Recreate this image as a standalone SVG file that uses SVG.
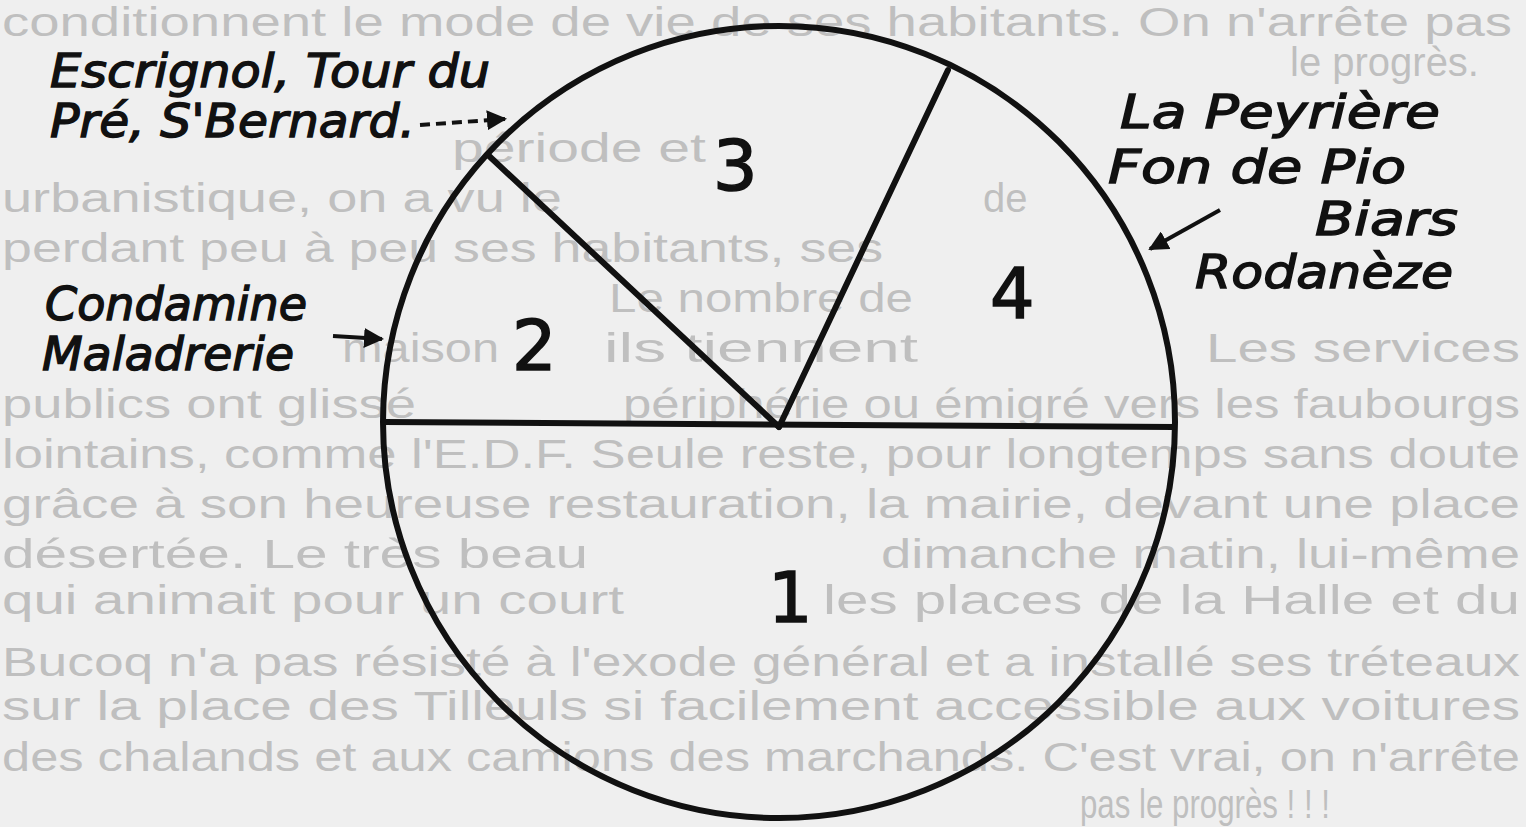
<svg xmlns="http://www.w3.org/2000/svg" width="1526" height="827" viewBox="0 0 1526 827">
<defs>
<style>
.bg{font-family:"Liberation Sans",Arial,sans-serif;font-size:40px;fill:#bfbfbf}
.lbl{font-family:"DejaVu Sans",sans-serif;font-style:italic;font-size:46px;fill:#111;stroke:#111;stroke-width:1.4}
.num{font-family:"DejaVu Sans",sans-serif;font-size:70px;fill:#111;stroke:#111;stroke-width:1.6}
.ln{stroke:#111;stroke-width:6;fill:none;stroke-linecap:round}
.ar{stroke:#111;stroke-width:4;fill:none}
</style>
<marker id="ah" viewBox="0 0 10 10" refX="9" refY="5" markerWidth="5" markerHeight="5" orient="auto" markerUnits="strokeWidth">
<path d="M0,0 L10,5 L0,10 z" fill="#111"/>
</marker>
</defs>
<rect width="1526" height="827" fill="#efefef"/>
<g id="page-text">
<text class="bg" x="2" y="36" textLength="1510" lengthAdjust="spacingAndGlyphs">conditionnent le mode de vie de ses habitants. On n'arrête pas</text>
<text class="bg" x="1290" y="76">le progrès.</text>
<text class="bg" x="452" y="162" textLength="254" lengthAdjust="spacingAndGlyphs">période et</text>
<text class="bg" x="2" y="212" textLength="560" lengthAdjust="spacingAndGlyphs">urbanistique, on a vu le</text>
<text class="bg" x="983" y="212">de</text>
<text class="bg" x="2" y="262" textLength="881" lengthAdjust="spacingAndGlyphs">perdant peu à peu ses habitants, ses</text>
<text class="bg" x="609" y="312" textLength="304" lengthAdjust="spacingAndGlyphs">Le nombre de</text>
<text class="bg" x="342" y="362" textLength="157" lengthAdjust="spacingAndGlyphs">maison</text>
<text class="bg" x="604" y="362" textLength="314" lengthAdjust="spacingAndGlyphs">ils tiennent</text>
<text class="bg" x="1206" y="362" textLength="314" lengthAdjust="spacingAndGlyphs">Les services</text>
<text class="bg" x="2" y="418" textLength="414" lengthAdjust="spacingAndGlyphs">publics ont glissé</text>
<text class="bg" x="623" y="418" textLength="897" lengthAdjust="spacingAndGlyphs">périphérie ou émigré vers les faubourgs</text>
<text class="bg" x="2" y="468" textLength="1518" lengthAdjust="spacingAndGlyphs">lointains, comme l'E.D.F. Seule reste, pour longtemps sans doute</text>
<text class="bg" x="2" y="518" textLength="1518" lengthAdjust="spacingAndGlyphs">grâce à son heureuse restauration, la mairie, devant une place</text>
<text class="bg" x="2" y="568" textLength="586" lengthAdjust="spacingAndGlyphs">désertée. Le très beau</text>
<text class="bg" x="881" y="568" textLength="639" lengthAdjust="spacingAndGlyphs">dimanche matin, lui-même</text>
<text class="bg" x="2" y="614" textLength="622" lengthAdjust="spacingAndGlyphs">qui animait pour un court</text>
<text class="bg" x="823" y="614" textLength="697" lengthAdjust="spacingAndGlyphs">les places de la Halle et du</text>
<text class="bg" x="2" y="676" textLength="1518" lengthAdjust="spacingAndGlyphs">Bucoq n'a pas résisté à l'exode général et a installé ses tréteaux</text>
<text class="bg" x="2" y="720" textLength="1518" lengthAdjust="spacingAndGlyphs">sur la place des Tilleuls si facilement accessible aux voitures</text>
<text class="bg" x="2" y="771" textLength="1518" lengthAdjust="spacingAndGlyphs">des chalands et aux camions des marchands. C'est vrai, on n'arrête</text>
<text class="bg" x="1080" y="818" textLength="250" lengthAdjust="spacingAndGlyphs">pas le progrès ! ! !</text>
</g>
<g id="pie">
<circle class="ln" cx="779" cy="422" r="396"/>
</g>
<g id="connectors">
<line class="ln" x1="384" y1="422" x2="1174" y2="427"/>
<line class="ln" x1="779" y1="427" x2="488" y2="155"/>
<line class="ln" x1="779" y1="427" x2="948" y2="70"/>
<line class="ar" x1="420" y1="125" x2="505" y2="119" stroke-dasharray="10,6" marker-end="url(#ah)"/>
<line class="ar" x1="333" y1="336" x2="382" y2="339" marker-end="url(#ah)"/>
<line class="ar" x1="1220" y1="210" x2="1150" y2="249" marker-end="url(#ah)"/>
</g>
<g id="slice-1"><text class="num" x="768" y="622">1</text></g>
<g id="slice-2"><text class="num" x="512" y="370">2</text></g>
<g id="slice-3"><text class="num" x="713" y="190">3</text></g>
<g id="slice-4"><text class="num" x="990" y="318">4</text></g>
<g id="label-3">
<text class="lbl" x="50" y="87" textLength="440" lengthAdjust="spacingAndGlyphs">Escrignol, Tour du</text>
<text class="lbl" x="50" y="137" textLength="365" lengthAdjust="spacingAndGlyphs">Pré, S'Bernard.</text>
</g>
<g id="label-2">
<text class="lbl" x="45" y="320" textLength="262" lengthAdjust="spacingAndGlyphs">Condamine</text>
<text class="lbl" x="42" y="370" textLength="252" lengthAdjust="spacingAndGlyphs">Maladrerie</text>
</g>
<g id="label-4">
<text class="lbl" x="1120" y="128" textLength="320" lengthAdjust="spacingAndGlyphs">La Peyrière</text>
<text class="lbl" x="1108" y="183" textLength="298" lengthAdjust="spacingAndGlyphs">Fon  de Pio</text>
<text class="lbl" x="1315" y="235" textLength="143" lengthAdjust="spacingAndGlyphs">Biars</text>
<text class="lbl" x="1195" y="288" textLength="258" lengthAdjust="spacingAndGlyphs">Rodanèze</text>
</g>
</svg>
